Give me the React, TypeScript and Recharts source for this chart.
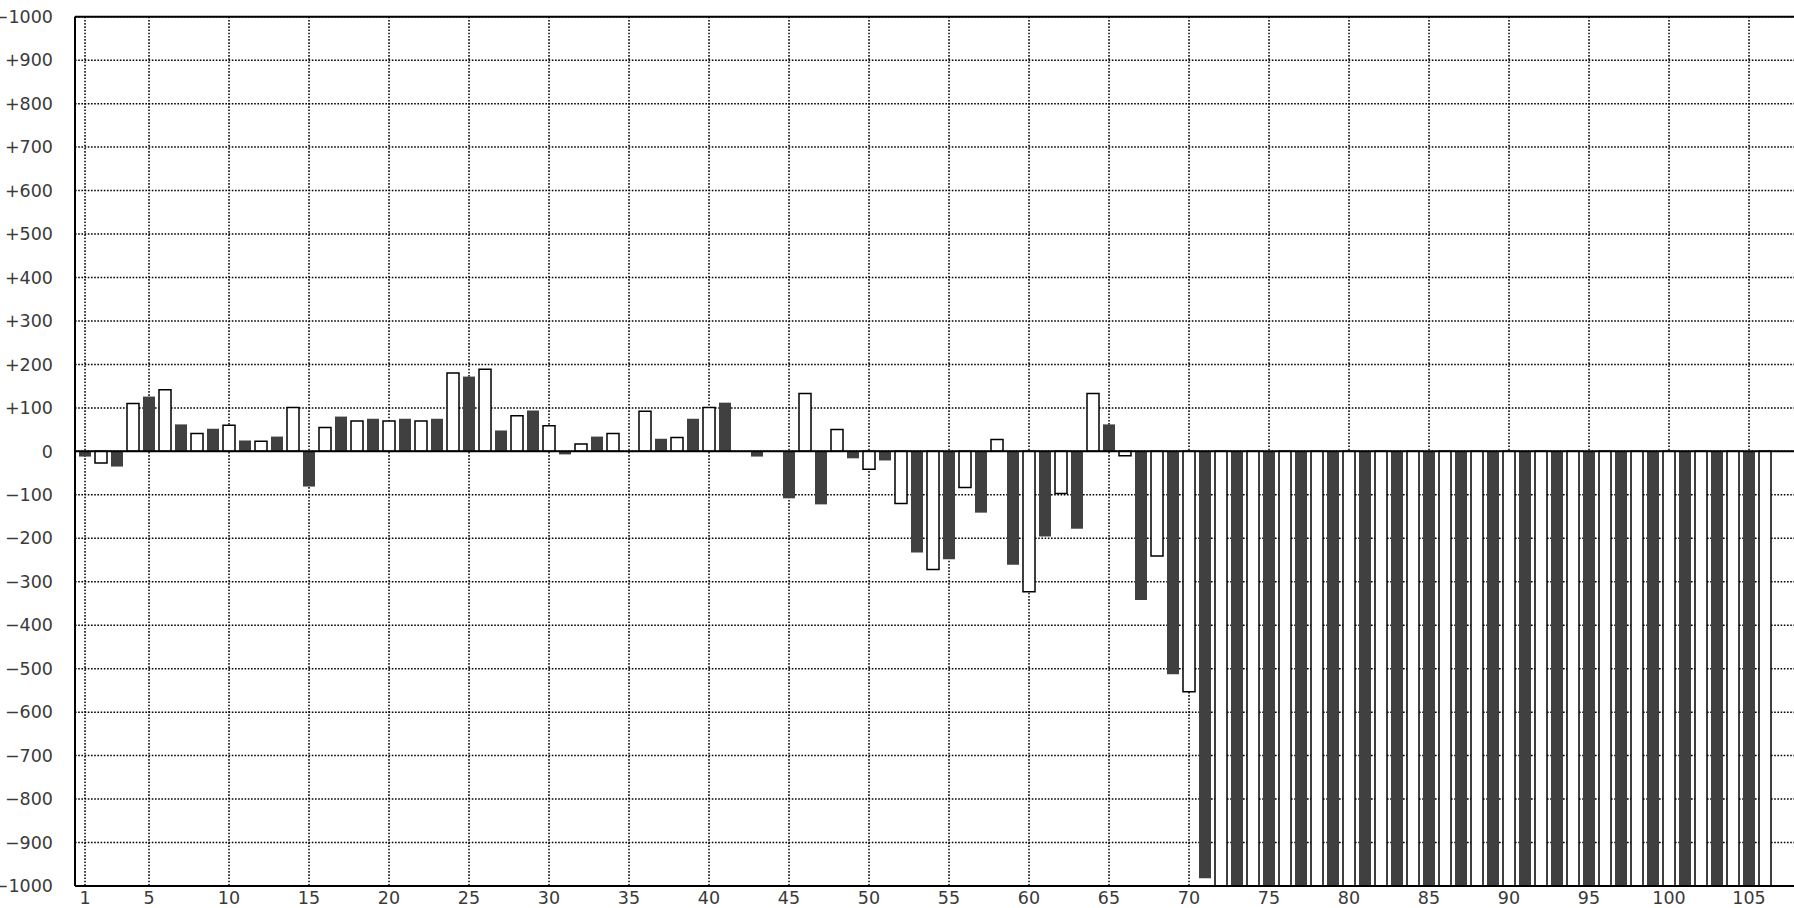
import { BarChart, Bar, XAxis, YAxis, CartesianGrid, ReferenceLine, Cell } from 'recharts';

// slot numbers along the bottom (the last few are empty, past the page edge)
const categories = Array.from({ length: 110 }, (_, i) => i + 1);

const values: number[] = [
  -12, -27, -35, 110, 126, 142, 62, 41, 52, 60,
  25, 23, 34, 101, -81, 55, 80, 70, 75, 70,
  75, 70, 75, 180, 172, 189, 48, 82, 94, 59,
  -7, 17, 34, 41, 0, 92, 29, 32, 75, 101,
  112, 0, -12, 0, -108, 133, -122, 50, -16, -41,
  -21, -120, -233, -272, -248, -83, -141, 27, -261, -323,
  -196, -97, -178, 133, 62, -10, -342, -241, -513, -553,
  -982, -1000, -1000, -1000, -1000, -1000, -1000, -1000, -1000, -1000,
  -1000, -1000, -1000, -1000, -1000, -1000, -1000, -1000, -1000, -1000,
  -1000, -1000, -1000, -1000, -1000, -1000, -1000, -1000, -1000, -1000,
  -1000, -1000, -1000, -1000, -1000, -1000,
];

const xTicks = [1, 5, 10, 15, 20, 25, 30, 35, 40, 45, 50, 55, 60, 65, 70, 75, 80, 85, 90, 95, 100, 105];
const yTicks = [
  -1000, -900, -800, -700, -600, -500, -400, -300, -200, -100, 0,
  100, 200, 300, 400, 500, 600, 700, 800, 900, 1000,
];
// the top label reads "-1000" in the source picture
const yLabels: Record<number, string> = { 1000: '\u22121000' };

const data = categories.map((n, i) => ({ n, v: i < values.length ? values[i] : null }));

const DARK = '#404040';
const labelStyle = { fontSize: 17.5, fill: '#3a3a3a', fontFamily: 'DejaVu Sans' };

const fmtY = (v: number) => {
  if (yLabels[v]) return yLabels[v];
  return v > 0 ? `+${v}` : v < 0 ? `\u2212${Math.abs(v)}` : '0';
};

export default function App() {
  return (
    <div style={{ position: 'absolute', left: 0, top: 0, width: 1794, height: 908, overflow: 'hidden', background: '#fff' }}>
      <BarChart
        width={1842}
        height={908}
        data={data}
        margin={{ top: 16.7, right: 5, left: 0, bottom: 0 }}
        style={{ fontFamily: 'DejaVu Sans' }}
      >
        <CartesianGrid stroke="#000" strokeWidth={1.5} strokeDasharray="1.6 1.6" />
        <XAxis
          dataKey="n"
          type="category"
          ticks={xTicks}
          interval={0}
          padding={{ left: 2, right: 0 }}
          height={22}
          tickSize={0}
          tickMargin={6}
          tickLine={false}
          axisLine={{ stroke: '#000', strokeWidth: 2 }}
          tick={labelStyle}
        />
        <YAxis
          type="number"
          domain={[-1000, 1000]}
          ticks={yTicks}
          interval={0}
          allowDataOverflow
          width={75}
          tickSize={0}
          tickMargin={22}
          tickLine={false}
          axisLine={{ stroke: '#000', strokeWidth: 2 }}
          tick={labelStyle}
          tickFormatter={fmtY}
        />
        <ReferenceLine y={1000} stroke="#000" strokeWidth={2} />
        <Bar dataKey="v" barSize={12} isAnimationActive={false}>
          {data.map((d, i) => (
            <Cell
              key={d.n}
              fill={i % 2 === 0 ? DARK : '#fff'}
              stroke={i % 2 === 0 ? 'none' : '#000'}
              strokeWidth={i % 2 === 0 ? 0 : 1.5}
            />
          ))}
        </Bar>
        <ReferenceLine y={0} stroke="#000" strokeWidth={2} />
      </BarChart>
    </div>
  );
}
